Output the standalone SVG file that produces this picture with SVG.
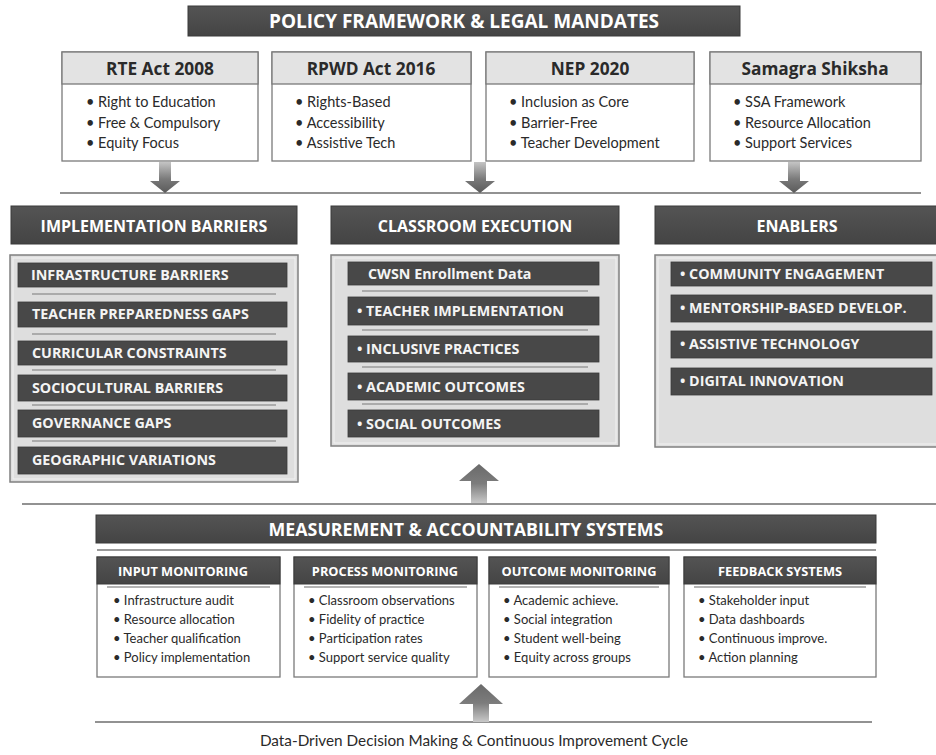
<svg xmlns="http://www.w3.org/2000/svg" width="936" height="755" viewBox="0 0 936 755">
<defs>
<linearGradient id="arrowDown" x1="0" y1="0" x2="0" y2="1">
<stop offset="0" stop-color="#c4c4c4"/><stop offset="0.55" stop-color="#7a7a7a"/><stop offset="1" stop-color="#5a5a5a"/>
</linearGradient>
<linearGradient id="arrowUp" x1="0" y1="1" x2="0" y2="0">
<stop offset="0" stop-color="#c8c8c8"/><stop offset="0.5" stop-color="#7c7c7c"/><stop offset="1" stop-color="#6a6a6a"/>
</linearGradient>
<linearGradient id="darkBar" x1="0" y1="0" x2="0" y2="1">
<stop offset="0" stop-color="#545454"/><stop offset="1" stop-color="#444444"/>
</linearGradient>
</defs>
<style>
.bg{fill:#ffffff}
.dark{fill:url(#darkBar);stroke:#3a3a3a;stroke-width:1}
.item{fill:#484848;stroke:#3a3a3a;stroke-width:0.8}
.panel{fill:#dedede;stroke:#808080;stroke-width:1.5}
.pbox{fill:#ffffff;stroke:#7a7a7a;stroke-width:1.3}
.pband{fill:#e3e3e3;stroke:#7a7a7a;stroke-width:1.3}
.sep{stroke:#9a9a9a;stroke-width:1.5}
.rule{stroke:#6e6e6e;stroke-width:1.6;fill:none}
.t-title{font-family:"Open Sans","Noto Sans",sans-serif;font-weight:700;font-size:19px;fill:#ffffff;text-anchor:middle}
.t-meas{font-family:"Open Sans","Noto Sans",sans-serif;font-weight:700;font-size:17.8px;fill:#ffffff;text-anchor:middle}
.t-sec{font-family:"Open Sans","Noto Sans",sans-serif;font-weight:700;font-size:16px;fill:#ffffff;text-anchor:middle}
.t-item{font-family:"Open Sans","Noto Sans",sans-serif;font-weight:700;font-size:14.3px;fill:#f4f4f4}
.t-ph{font-family:"Open Sans","Noto Sans",sans-serif;font-weight:700;font-size:17.3px;fill:#2a2a2a;text-anchor:middle}
.t-pb{font-family:"Lato","Noto Sans",sans-serif;font-size:14.5px;fill:#2a2a2a}
.t-sh{font-family:"Open Sans","Noto Sans",sans-serif;font-weight:700;font-size:12.8px;fill:#ffffff;text-anchor:middle}
.t-sb{font-family:"Lato","Noto Sans",sans-serif;font-size:13px;fill:#2a2a2a}
.t-foot{font-family:"Lato","Noto Sans",sans-serif;font-size:15.3px;fill:#2a2a2a;text-anchor:middle}
</style>
<rect class="bg" x="0" y="0" width="936" height="755"/>

<g id="policy-title">
<rect class="dark" x="188" y="6" width="552" height="30"/>
<text class="t-title" x="464" y="28">POLICY FRAMEWORK &amp; LEGAL MANDATES</text>
</g>

<g id="rte">
<rect class="pbox" x="62" y="52" width="196" height="109"/>
<rect class="pband" x="62" y="52" width="196" height="32"/>
<text class="t-ph" x="160" y="75">RTE Act 2008</text>
<text class="t-pb" x="86" y="107">• Right to Education</text>
<text class="t-pb" x="86" y="128">• Free &amp; Compulsory</text>
<text class="t-pb" x="86" y="148">• Equity Focus</text>
</g>
<g id="rpwd">
<rect class="pbox" x="272" y="52" width="199" height="109"/>
<rect class="pband" x="272" y="52" width="199" height="32"/>
<text class="t-ph" x="371" y="75">RPWD Act 2016</text>
<text class="t-pb" x="295" y="107">• Rights-Based</text>
<text class="t-pb" x="295" y="128">• Accessibility</text>
<text class="t-pb" x="295" y="148">• Assistive Tech</text>
</g>
<g id="nep">
<rect class="pbox" x="486" y="52" width="208" height="109"/>
<rect class="pband" x="486" y="52" width="208" height="32"/>
<text class="t-ph" x="590" y="75">NEP 2020</text>
<text class="t-pb" x="509" y="107">• Inclusion as Core</text>
<text class="t-pb" x="509" y="128">• Barrier-Free</text>
<text class="t-pb" x="509" y="148">• Teacher Development</text>
</g>
<g id="samagra">
<rect class="pbox" x="710" y="52" width="211" height="109"/>
<rect class="pband" x="710" y="52" width="211" height="32"/>
<text class="t-ph" x="815" y="75">Samagra Shiksha</text>
<text class="t-pb" x="733" y="107">• SSA Framework</text>
<text class="t-pb" x="733" y="128">• Resource Allocation</text>
<text class="t-pb" x="733" y="148">• Support Services</text>
</g>

<g id="barriers">
<rect class="dark" x="11" y="206" width="286" height="38"/>
<text class="t-sec" x="154" y="232">IMPLEMENTATION BARRIERS</text>
<rect class="panel" x="10" y="255" width="288" height="227"/>
<rect x="13" y="258" width="282" height="221" fill="none" stroke="#f2f2f2" stroke-width="1"/>
<rect class="item" x="18" y="263" width="269" height="24"/>
<text class="t-item" x="31" y="280">INFRASTRUCTURE BARRIERS</text>
<line class="sep" x1="32" y1="294" x2="276" y2="294"/>
<rect class="item" x="18" y="302" width="269" height="25"/>
<text class="t-item" x="32" y="319">TEACHER PREPAREDNESS GAPS</text>
<line class="sep" x1="32" y1="334" x2="276" y2="334"/>
<rect class="item" x="18" y="341" width="269" height="24"/>
<text class="t-item" x="32" y="358">CURRICULAR CONSTRAINTS</text>
<line class="sep" x1="32" y1="370" x2="276" y2="370"/>
<rect class="item" x="18" y="375" width="269" height="26"/>
<text class="t-item" x="32" y="393">SOCIOCULTURAL BARRIERS</text>
<line class="sep" x1="32" y1="405" x2="276" y2="405"/>
<rect class="item" x="18" y="410" width="269" height="27"/>
<text class="t-item" x="32" y="428">GOVERNANCE GAPS</text>
<line class="sep" x1="32" y1="441" x2="276" y2="441"/>
<rect class="item" x="18" y="447" width="269" height="27"/>
<text class="t-item" x="32" y="465">GEOGRAPHIC VARIATIONS</text>
</g>

<g id="classroom">
<rect class="dark" x="331" y="206" width="288" height="38"/>
<text class="t-sec" x="475" y="232">CLASSROOM EXECUTION</text>
<rect class="panel" x="331" y="255" width="288" height="191"/>
<rect x="334" y="258" width="282" height="185" fill="none" stroke="#f2f2f2" stroke-width="1"/>
<rect class="item" x="348" y="262" width="251" height="23"/>
<text class="t-item" x="368" y="279">CWSN Enrollment Data</text>
<line class="sep" x1="362" y1="291" x2="588" y2="291"/>
<rect class="item" x="348" y="297" width="251" height="28"/>
<text class="t-item" x="357" y="316">• TEACHER IMPLEMENTATION</text>
<line class="sep" x1="362" y1="330" x2="588" y2="330"/>
<rect class="item" x="348" y="336" width="251" height="26"/>
<text class="t-item" x="357" y="354">• INCLUSIVE PRACTICES</text>
<line class="sep" x1="362" y1="367" x2="588" y2="367"/>
<rect class="item" x="348" y="373" width="251" height="27"/>
<text class="t-item" x="357" y="392">• ACADEMIC OUTCOMES</text>
<line class="sep" x1="362" y1="404" x2="588" y2="404"/>
<rect class="item" x="348" y="410" width="251" height="27"/>
<text class="t-item" x="357" y="429">• SOCIAL OUTCOMES</text>
</g>

<g id="enablers">
<rect class="dark" x="655" y="206" width="285" height="38"/>
<text class="t-sec" x="797" y="232">ENABLERS</text>
<rect class="panel" x="655" y="255" width="285" height="192"/>
<rect x="658" y="258" width="282" height="186" fill="none" stroke="#f2f2f2" stroke-width="1"/>
<rect class="item" x="671" y="262" width="261" height="24"/>
<text class="t-item" x="680" y="279">• COMMUNITY ENGAGEMENT</text>
<rect class="item" x="671" y="295" width="261" height="27"/>
<text class="t-item" x="680" y="313">• MENTORSHIP-BASED DEVELOP.</text>
<rect class="item" x="671" y="331" width="261" height="27"/>
<text class="t-item" x="680" y="349">• ASSISTIVE TECHNOLOGY</text>
<rect class="item" x="671" y="368" width="261" height="27"/>
<text class="t-item" x="680" y="386">• DIGITAL INNOVATION</text>
</g>

<g id="measurement">
<rect class="dark" x="96" y="515" width="780" height="28"/>
<text class="t-meas" x="466" y="536">MEASUREMENT &amp; ACCOUNTABILITY SYSTEMS</text>
<line x1="97" y1="550" x2="876" y2="550" stroke="#9a9a9a" stroke-width="2"/>
</g>

<g id="input-monitoring">
<rect class="pbox" x="97" y="557" width="183" height="120"/>
<rect class="dark" x="97" y="557" width="183" height="27"/>
<line class="sep" x1="107" y1="587" x2="270" y2="587"/>
<text class="t-sh" x="183" y="576">INPUT MONITORING</text>
<text class="t-sb" x="113" y="605">• Infrastructure audit</text>
<text class="t-sb" x="113" y="624">• Resource allocation</text>
<text class="t-sb" x="113" y="643">• Teacher qualification</text>
<text class="t-sb" x="113" y="662">• Policy implementation</text>
</g>
<g id="process-monitoring">
<rect class="pbox" x="294" y="557" width="183" height="120"/>
<rect class="dark" x="294" y="557" width="183" height="27"/>
<line class="sep" x1="304" y1="587" x2="467" y2="587"/>
<text class="t-sh" x="385" y="576">PROCESS MONITORING</text>
<text class="t-sb" x="308" y="605">• Classroom observations</text>
<text class="t-sb" x="308" y="624">• Fidelity of practice</text>
<text class="t-sb" x="308" y="643">• Participation rates</text>
<text class="t-sb" x="308" y="662">• Support service quality</text>
</g>
<g id="outcome-monitoring">
<rect class="pbox" x="489" y="557" width="180" height="120"/>
<rect class="dark" x="489" y="557" width="180" height="27"/>
<line class="sep" x1="499" y1="587" x2="659" y2="587"/>
<text class="t-sh" x="579" y="576">OUTCOME MONITORING</text>
<text class="t-sb" x="503" y="605">• Academic achieve.</text>
<text class="t-sb" x="503" y="624">• Social integration</text>
<text class="t-sb" x="503" y="643">• Student well-being</text>
<text class="t-sb" x="503" y="662">• Equity across groups</text>
</g>
<g id="feedback-systems">
<rect class="pbox" x="684" y="557" width="192" height="120"/>
<rect class="dark" x="684" y="557" width="192" height="27"/>
<line class="sep" x1="694" y1="587" x2="866" y2="587"/>
<text class="t-sh" x="780" y="576">FEEDBACK SYSTEMS</text>
<text class="t-sb" x="698" y="605">• Stakeholder input</text>
<text class="t-sb" x="698" y="624">• Data dashboards</text>
<text class="t-sb" x="698" y="643">• Continuous improve.</text>
<text class="t-sb" x="698" y="662">• Action planning</text>
</g>

<g id="connectors">
<line class="rule" x1="60" y1="193" x2="921" y2="193"/>
<polygon fill="url(#arrowDown)" points="159,162 171,162 171,181 180,181 165,193 150,181 159,181"/>
<polygon fill="url(#arrowDown)" points="474,162 486,162 486,181 495,181 480,193 465,181 474,181"/>
<polygon fill="url(#arrowDown)" points="788,162 800,162 800,181 809,181 794,193 779,181 788,181"/>
<line class="rule" x1="22" y1="504" x2="936" y2="504"/>
<polygon fill="url(#arrowUp)" points="471,503 487,503 487,481 499,481 479,464 459,481 471,481"/>
<line class="rule" x1="95" y1="722" x2="872" y2="722"/>
<polygon fill="url(#arrowUp)" points="473,722 489,722 489,704 503,704 481,684 459,704 473,704"/>
</g>

<text class="t-foot" x="474" y="746">Data-Driven Decision Making &amp; Continuous Improvement Cycle</text>
</svg>
